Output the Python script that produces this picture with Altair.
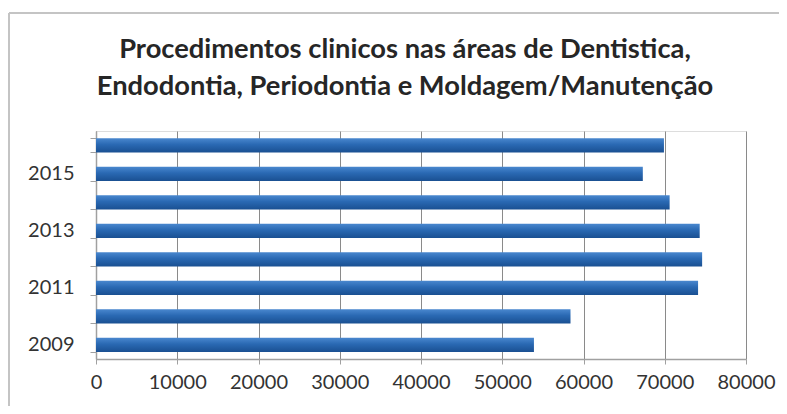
import altair as alt
import pandas as pd

years = ["2009", "2010", "2011", "2012", "2013", "2014", "2015", "2016"]
values = [53900, 58400, 74100, 74600, 74300, 70600, 67300, 69900]
x_ticks = [0, 10000, 20000, 30000, 40000, 50000, 60000, 70000, 80000]
title_lines = ["Procedimentos clinicos nas áreas de Dentistica,",
               "Endodontia, Periodontia e Moldagem/Manutenção"]

df = pd.DataFrame({"ano": years, "valor": values})
title_df = pd.DataFrame({"line": title_lines, "row": [0, 1]})

FONT = "Lato"

bars = alt.Chart(df).mark_bar(
    color=alt.Gradient(
        gradient="linear", x1=0, x2=0, y1=0, y2=1,
        stops=[alt.GradientStop(offset=0, color="#4a88cf"),
               alt.GradientStop(offset=0.45, color="#2a69b3"),
               alt.GradientStop(offset=1, color="#1a5092")]
    )
).encode(
    x=alt.X("valor:Q",
            scale=alt.Scale(domain=[0, 80000], nice=False),
            axis=alt.Axis(values=x_ticks, title=None, format="d",
                          grid=True, gridColor="#8a8a8a", gridWidth=1,
                          domainColor="#a0a0a0", domainWidth=1.5,
                          tickColor="#a0a0a0", tickSize=5,
                          labelOverlap=False, labelFlush=False,
                          labelFont=FONT, labelFontSize=20, labelColor="#333333",
                          labelPadding=8)),
    y=alt.Y("ano:N", sort=years[::-1],
            scale=alt.Scale(paddingInner=0.5, paddingOuter=0.25),
            axis=alt.Axis(title=None, tickBand="extent",
                          labelExpr="toNumber(datum.value) % 2 == 1 ? datum.label : ''",
                          domainColor="#a0a0a0", domainWidth=1.5,
                          tickColor="#a0a0a0", tickSize=6,
                          labelFont=FONT, labelFontSize=20, labelColor="#333333",
                          labelPadding=16))
)

title = alt.Chart(title_df).mark_text(
    font=FONT, fontSize=27.3, fontWeight="bold", color="#262626",
    align="center", baseline="alphabetic"
).encode(
    text="line:N",
    x=alt.value(309),
    y=alt.Y("row:Q", scale=alt.Scale(domain=[0, 1], range=[-73, -36]), axis=None)
)

frame_df = pd.DataFrame({"a": [0]})
left_border = alt.Chart(frame_df).mark_rule(color="#c4c4c4", strokeWidth=2).encode(
    x=alt.value(-87), y=alt.value(-118), y2=alt.value(300))
top_border = alt.Chart(frame_df).mark_rule(color="#c4c4c4", strokeWidth=2).encode(
    x=alt.value(-87), x2=alt.value(720), y=alt.value(-118))

chart = alt.layer(bars, title, left_border, top_border).resolve_scale(y="independent").properties(
    width=650, height=228,
    autosize=alt.AutoSizeParams(type="none"),
    padding={"left": 88, "top": 123, "right": 33, "bottom": 47},
).configure_view(stroke=None).configure(background="white")

chart.save("out.html", embed_options={"renderer": "svg", "actions": False})
